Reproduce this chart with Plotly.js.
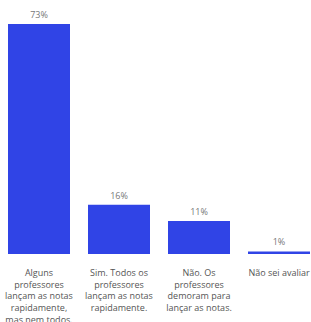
<!DOCTYPE html>
<html>
<head>
<meta charset="utf-8">
<script src="https://cdn.plot.ly/plotly-3.0.1.min.js"></script>
<style>html,body{margin:0;padding:0;overflow:hidden;background:#fff;}#chart{width:311px;height:322px;}</style>
</head>
<body>
<div id="chart"></div>
<script>
var categories = [
  "Alguns<br>professores<br>lançam as notas<br>rapidamente,<br>mas nem todos.",
  "Sim. Todos os<br>professores<br>lançam as notas<br>rapidamente.",
  "Não. Os<br>professores<br>demoram para<br>lançar as notas.",
  "Não sei avaliar"
];
var values = [73.0, 15.6, 10.5, 0.8];
var valueLabels = ["73%", "16%", "11%", "1%"];

var trace = {
  type: 'bar',
  x: [0, 1, 2, 3],
  y: values,
  text: valueLabels,
  textposition: 'outside',
  cliponaxis: false,
  textfont: {family: 'Open Sans, sans-serif', size: 9, color: '#777'},
  marker: {color: '#3044e6'},
  hoverinfo: 'none'
};

var layout = {
  width: 311,
  height: 322,
  margin: {l: 0, r: 0, t: 0, b: 68, pad: 0},
  paper_bgcolor: '#fff',
  plot_bgcolor: '#fff',
  bargap: 0.225,
  showlegend: false,
  xaxis: {
    range: [-0.4875, 3.4],
    tickmode: 'array',
    tickvals: [0, 1, 2, 3],
    ticktext: categories,
    ticks: 'outside',
    ticklen: 10,
    tickcolor: 'rgba(0,0,0,0)',
    showline: false,
    showgrid: false,
    zeroline: false,
    tickangle: 0,
    tickfont: {family: 'Open Sans, sans-serif', size: 9, color: '#555'},
    fixedrange: true
  },
  yaxis: {
    range: [0, 80.6],
    visible: false,
    showgrid: false,
    zeroline: false,
    fixedrange: true
  }
};

Plotly.newPlot('chart', [trace], layout, {displayModeBar: false, staticPlot: true});
</script>
</body>
</html>
